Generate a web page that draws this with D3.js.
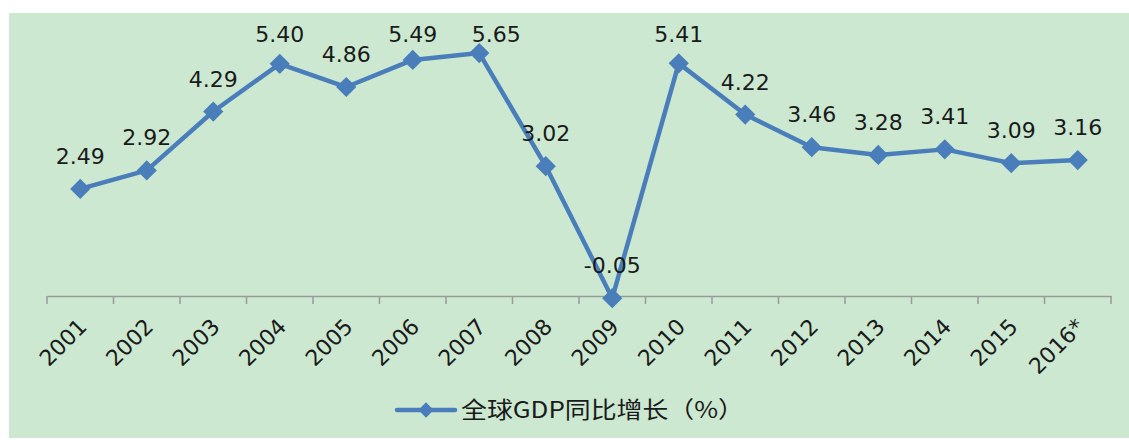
<!DOCTYPE html>
<html>
<head>
<meta charset="utf-8">
<script src="https://cdn.jsdelivr.net/npm/d3@7"></script>
<style>
    body { margin: 0; background: #fff; }
    svg { display: block; }
</style>
</head>
<body>
<svg id="chart" width="1129" height="440"></svg>
<script>
// Chart data
const years = ['2001', '2002', '2003', '2004', '2005', '2006', '2007', '2008',
    '2009', '2010', '2011', '2012', '2013', '2014', '2015', '2016*'];
const gdpGrowth = [2.49, 2.92, 4.29, 5.40, 4.86, 5.49, 5.65, 3.02,
    -0.05, 5.41, 4.22, 3.46, 3.28, 3.41, 3.09, 3.16];
const seriesName = '全球GDP同比增长（%）';

const lineColor = '#4a7ebb';
const svg = d3.select('#chart');

// Green chart area
svg.append('rect')
    .attr('x', 9)
    .attr('y', 13)
    .attr('width', 1120)
    .attr('height', 425)
    .attr('fill', '#cce8d1');

// Scales
let xScale = d3.scaleBand()
    .domain(years)
    .range([47, 1111]);

let yScale = d3.scaleLinear()
    .domain([0, 6])
    .range([296, 38]);

let cx = d => xScale(d) + xScale.bandwidth() / 2;

// Category axis at zero, ticks between categories
let xAxis = d3.axisBottom(xScale)
    .tickSize(0)
    .tickFormat('');
let gX = svg.append('g')
    .attr('transform', 'translate(0,' + yScale(0) + ')')
    .call(xAxis);
gX.select('.domain').attr('stroke', '#9a9a9a').attr('stroke-width', 1.5);

let boundaries = years.map(d => xScale(d)).concat([xScale.range()[1]]);
gX.selectAll('line.sep')
    .data(boundaries)
    .join('line')
    .attr('class', 'sep')
    .attr('x1', d => d)
    .attr('x2', d => d)
    .attr('y1', 0)
    .attr('y2', 8)
    .attr('stroke', '#9a9a9a')
    .attr('stroke-width', 1.5);

// Rotated year labels
svg.append('g')
    .selectAll('text')
    .data(years)
    .join('text')
    .attr('transform', d => 'translate(' + (cx(d) + 8) + ',' + (yScale(0) + 32) + ') rotate(-45)')
    .attr('text-anchor', 'end')
    .attr('font-family', 'DejaVu Sans, sans-serif')
    .attr('font-size', 22)
    .attr('fill', '#1a1a1a')
    .text(d => d);

let points = years.map((y, i) => ({year: y, value: gdpGrowth[i]}));

// Line
let line = d3.line()
    .x(d => cx(d.year))
    .y(d => yScale(d.value));

svg.append('path')
    .datum(points)
    .attr('d', line)
    .attr('fill', 'none')
    .attr('stroke', lineColor)
    .attr('stroke-width', 4.5)
    .attr('stroke-linejoin', 'round');

// Diamond markers
let diamond = d3.symbol().type(d3.symbolDiamond2).size(260);
svg.append('g')
    .selectAll('path')
    .data(points)
    .join('path')
    .attr('d', diamond)
    .attr('transform', d => 'translate(' + cx(d.year) + ',' + yScale(d.value) + ')')
    .attr('fill', lineColor);

// Value labels above points, kept inside the plot top (2007 nudged right as in the original)
let labelNudge = {'2007': 17};
svg.append('g')
    .selectAll('text')
    .data(points)
    .join('text')
    .attr('x', d => cx(d.year) + (labelNudge[d.year] || 0))
    .attr('y', d => Math.max(yScale(d.value) - 25, 42))
    .attr('text-anchor', 'middle')
    .attr('font-family', 'DejaVu Sans, sans-serif')
    .attr('font-size', 22)
    .attr('fill', '#1a1a1a')
    .text(d => d.value.toFixed(2));

// Legend
let legend = svg.append('g').attr('transform', 'translate(397,410)');
legend.append('line')
    .attr('x1', 0)
    .attr('x2', 58)
    .attr('stroke', lineColor)
    .attr('stroke-width', 4.5)
    .attr('stroke-linecap', 'round');
legend.append('path')
    .attr('d', d3.symbol().type(d3.symbolDiamond2).size(150))
    .attr('transform', 'translate(29,0)')
    .attr('fill', lineColor);
legend.append('text')
    .attr('x', 64)
    .attr('y', 8)
    .attr('font-family', 'Noto Sans CJK SC, sans-serif')
    .attr('font-size', 23)
    .attr('textLength', 283)
    .attr('lengthAdjust', 'spacingAndGlyphs')
    .attr('fill', '#1a1a1a')
    .text(seriesName);
</script>
</body>
</html>
